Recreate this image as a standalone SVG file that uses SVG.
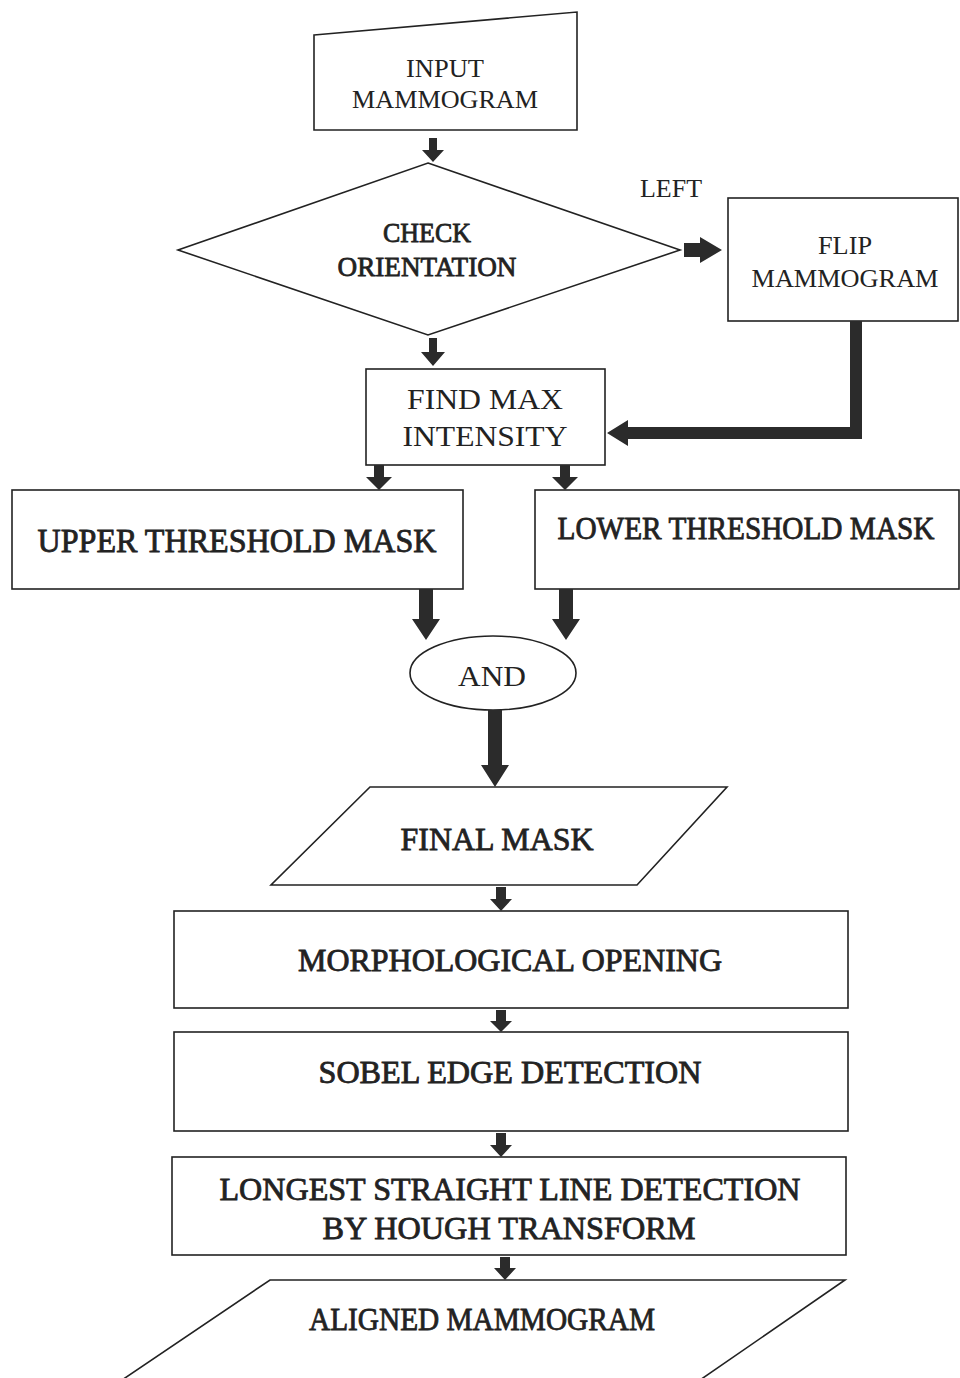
<svg xmlns="http://www.w3.org/2000/svg" width="960" height="1378" viewBox="0 0 960 1378">
<style>
.s{fill:#fff;stroke:#222;stroke-width:1.6}
.t{font-family:"Liberation Serif","Times New Roman",serif;fill:#222;text-anchor:middle}
.b{stroke:#222;stroke-width:0.8}
.a{fill:#2b2b2b;stroke:none}
</style>
<rect width="960" height="1378" fill="#fff"/>
<g id="input">
<polygon class="s" points="314,35 577,12 577,130 314,130"/>
<text class="t" x="445" y="77" font-size="26" textLength="78" lengthAdjust="spacingAndGlyphs">INPUT</text>
<text class="t" x="445" y="108" font-size="26" textLength="186" lengthAdjust="spacingAndGlyphs">MAMMOGRAM</text>
</g>
<g id="check">
<polygon class="s" points="428,163 680,250 428,335 178,250"/>
<text class="t b" x="427" y="242" font-size="28" textLength="88" lengthAdjust="spacingAndGlyphs">CHECK</text>
<text class="t b" x="427" y="276" font-size="28" textLength="179" lengthAdjust="spacingAndGlyphs">ORIENTATION</text>
</g>
<g id="left-label">
<text class="t" x="671" y="197" font-size="25" textLength="62" lengthAdjust="spacingAndGlyphs">LEFT</text>
</g>
<g id="flip">
<rect class="s" x="728" y="198" width="230" height="123"/>
<text class="t" x="845" y="254" font-size="26" textLength="54" lengthAdjust="spacingAndGlyphs">FLIP</text>
<text class="t" x="845" y="287" font-size="26" textLength="187" lengthAdjust="spacingAndGlyphs">MAMMOGRAM</text>
</g>
<g id="findmax">
<rect class="s" x="366" y="369" width="239" height="96"/>
<text class="t" x="485" y="409" font-size="30" textLength="156" lengthAdjust="spacingAndGlyphs">FIND MAX</text>
<text class="t" x="485" y="446" font-size="30" textLength="165" lengthAdjust="spacingAndGlyphs">INTENSITY</text>
</g>
<g id="upper">
<rect class="s" x="12" y="490" width="451" height="99"/>
<text class="t b" x="237" y="552" font-size="33" textLength="399" lengthAdjust="spacingAndGlyphs">UPPER THRESHOLD MASK</text>
</g>
<g id="lower">
<rect class="s" x="535" y="490" width="424" height="99"/>
<text class="t b" x="746" y="539" font-size="31" textLength="377" lengthAdjust="spacingAndGlyphs">LOWER THRESHOLD MASK</text>
</g>
<g id="and">
<ellipse class="s" cx="493" cy="673" rx="83" ry="37"/>
<text class="t" x="492" y="686" font-size="30" textLength="68" lengthAdjust="spacingAndGlyphs">AND</text>
</g>
<g id="finalmask">
<polygon class="s" points="370,787 727,787 637,885 271,885"/>
<text class="t b" x="497" y="850" font-size="32" textLength="193" lengthAdjust="spacingAndGlyphs">FINAL MASK</text>
</g>
<g id="morph">
<rect class="s" x="174" y="911" width="674" height="97"/>
<text class="t b" x="510" y="971" font-size="31" textLength="424" lengthAdjust="spacingAndGlyphs">MORPHOLOGICAL OPENING</text>
</g>
<g id="sobel">
<rect class="s" x="174" y="1032" width="674" height="99"/>
<text class="t b" x="510" y="1083" font-size="31" textLength="383" lengthAdjust="spacingAndGlyphs">SOBEL EDGE DETECTION</text>
</g>
<g id="hough">
<rect class="s" x="172" y="1157" width="674" height="98"/>
<text class="t b" x="510" y="1200" font-size="32" textLength="581" lengthAdjust="spacingAndGlyphs">LONGEST STRAIGHT LINE DETECTION</text>
<text class="t b" x="509" y="1239" font-size="32" textLength="373" lengthAdjust="spacingAndGlyphs">BY HOUGH TRANSFORM</text>
</g>
<g id="aligned">
<polygon class="s" points="270,1280 845,1280 700,1380 122,1380"/>
<text class="t b" x="482" y="1330" font-size="32" textLength="346" lengthAdjust="spacingAndGlyphs">ALIGNED MAMMOGRAM</text>
</g>
<g id="connectors">
<polygon class="a" points="429,138 437,138 437,150 444,150 433,162 422,150 429,150"/>
<polygon class="a" points="684,243 700,243 700,237 722,250 700,263 700,257 684,257"/>
<polygon class="a" points="429,338 437,338 437,352 445,352 433,366 421,352 429,352"/>
<polygon class="a" points="850,321 862,321 862,439 628,439 628,446 607,433 628,420 628,427 850,427"/>
<polygon class="a" points="374,465 384,465 384,477 392,477 379,490 366,477 374,477"/>
<polygon class="a" points="560,465 570,465 570,477 578,477 565,490 552,477 560,477"/>
<polygon class="a" points="419,589 433,589 433,619 440,619 426,640 412,619 419,619"/>
<polygon class="a" points="559,589 573,589 573,619 580,619 566,640 552,619 559,619"/>
<polygon class="a" points="488,710 502,710 502,765 509,765 495,787 481,765 488,765"/>
<polygon class="a" points="496,887 506,887 506,899 512,899 501,911 490,899 496,899"/>
<polygon class="a" points="496,1010 506,1010 506,1021 512,1021 501,1032 490,1021 496,1021"/>
<polygon class="a" points="496,1133 506,1133 506,1145 512,1145 501,1157 490,1145 496,1145"/>
<polygon class="a" points="500,1257 510,1257 510,1268 516,1268 505,1280 494,1268 500,1268"/>
</g>
</svg>
